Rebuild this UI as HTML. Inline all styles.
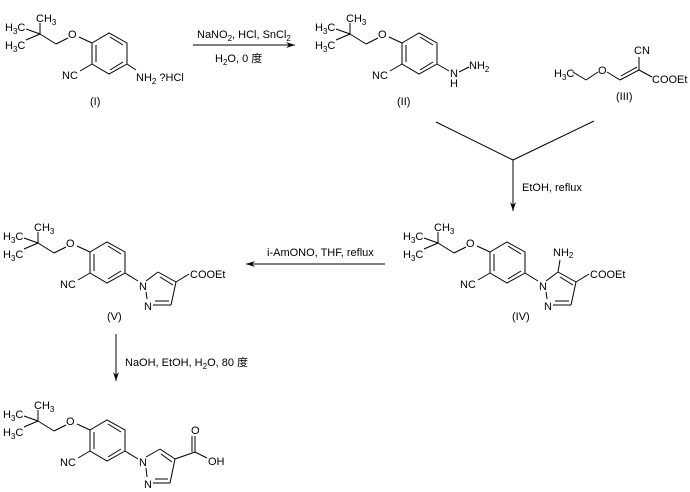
<!DOCTYPE html>
<html><head><meta charset="utf-8"><style>
html,body{margin:0;padding:0;background:#fff;}
svg{display:block;}
text{font-family:"Liberation Sans","Noto Sans CJK SC",sans-serif;font-size:11px;fill:#000;}
.s{font-size:8px;}
line,polyline{stroke:#000;stroke-width:1;fill:none;}
</style></head><body>
<svg width="690" height="492" viewBox="0 0 690 492" xmlns="http://www.w3.org/2000/svg">
<defs>
<marker id="ah" markerWidth="10" markerHeight="8" refX="9" refY="4" orient="auto" markerUnits="userSpaceOnUse">
<path d="M0,1 L9,4 L0,7 L3,4 Z" fill="#000"/></marker>
</defs>

<!-- Molecule I -->
<g transform="translate(92,43)">
<polyline points="0,0 17,-10 35,0 35,21 17,31 0,21 0,0"/>
<line x1="18" y1="-6" x2="31" y2="2"/><line x1="31" y1="19" x2="18" y2="27"/><line x1="4" y1="19" x2="4" y2="2"/>
<line x1="0" y1="0" x2="-13" y2="-6"/><text x="-24" y="-5">O</text>
<line x1="-24" y1="-5" x2="-36" y2="1"/><line x1="-36" y1="1" x2="-52" y2="-9"/>
<line x1="-52" y1="-9" x2="-52" y2="-20"/><line x1="-52" y1="-9" x2="-66" y2="-14"/><line x1="-52" y1="-9" x2="-66" y2="-3"/>
<text x="-56" y="-21">CH<tspan class="s" dy="3">3</tspan></text>
<text x="-87" y="-12">H<tspan class="s" dy="3">3</tspan><tspan dy="-3">C</tspan></text>
<text x="-87" y="6">H<tspan class="s" dy="3">3</tspan><tspan dy="-3">C</tspan></text>
<line x1="0" y1="21" x2="-12" y2="28"/><text x="-30" y="36">NC</text>
<line x1="35" y1="21" x2="44" y2="27"/><text x="44" y="38">NH<tspan class="s" dy="3">2</tspan><tspan dy="-3"> ?HCl</tspan></text>
<text x="-2" y="62">(I)</text>
</g>

<!-- Arrow 1 -->
<line x1="193" y1="45" x2="295" y2="45" marker-end="url(#ah)"/>
<text x="197" y="38">NaNO<tspan class="s" dy="3">2</tspan><tspan dy="-3">, HCl, SnCl</tspan><tspan class="s" dy="3">2</tspan></text>
<text x="215" y="62">H<tspan class="s" dy="3">2</tspan><tspan dy="-3">O, 0 度</tspan></text>

<!-- Molecule II -->
<g transform="translate(402,43)">
<polyline points="0,0 17,-10 35,0 35,21 17,31 0,21 0,0"/>
<line x1="18" y1="-6" x2="31" y2="2"/><line x1="31" y1="19" x2="18" y2="27"/><line x1="4" y1="19" x2="4" y2="2"/>
<line x1="0" y1="0" x2="-13" y2="-6"/><text x="-24" y="-5">O</text>
<line x1="-24" y1="-5" x2="-36" y2="1"/><line x1="-36" y1="1" x2="-52" y2="-9"/>
<line x1="-52" y1="-9" x2="-52" y2="-20"/><line x1="-52" y1="-9" x2="-66" y2="-14"/><line x1="-52" y1="-9" x2="-66" y2="-3"/>
<text x="-56" y="-21">CH<tspan class="s" dy="3">3</tspan></text>
<text x="-87" y="-12">H<tspan class="s" dy="3">3</tspan><tspan dy="-3">C</tspan></text>
<text x="-87" y="6">H<tspan class="s" dy="3">3</tspan><tspan dy="-3">C</tspan></text>
<line x1="0" y1="21" x2="-12" y2="28"/><text x="-30" y="36">NC</text>
<line x1="35" y1="21" x2="47" y2="28"/><text x="48" y="34">N</text><text x="48" y="44">H</text>
<line x1="57" y1="29" x2="67" y2="24"/><text x="67" y="26">NH<tspan class="s" dy="3">2</tspan></text>
<text x="-5" y="62">(II)</text>
</g>

<!-- Molecule III -->
<text x="554" y="77">H<tspan class="s" dy="3">3</tspan><tspan dy="-3">C</tspan></text>
<line x1="573" y1="72" x2="586" y2="80"/><line x1="586" y1="80" x2="598" y2="72"/>
<text x="598" y="74">O</text>
<line x1="607" y1="72" x2="620" y2="80"/><line x1="620" y1="80" x2="639" y2="70"/><line x1="621" y1="76" x2="637" y2="67"/>
<line x1="639" y1="70" x2="639" y2="57"/><text x="634" y="54">CN</text>
<line x1="639" y1="70" x2="652" y2="77"/><text x="652" y="83">COOEt</text>
<text x="616" y="100">(III)</text>

<!-- Converge arrow -->
<line x1="436" y1="122" x2="513" y2="160"/><line x1="594" y1="121" x2="513" y2="160"/>
<line x1="513" y1="160" x2="513" y2="211" marker-end="url(#ah)"/>
<text x="522" y="191">EtOH, reflux</text>

<!-- Molecule IV -->
<g transform="translate(490,252)">
<polyline points="0,0 17,-10 35,0 35,21 17,31 0,21 0,0"/>
<line x1="18" y1="-6" x2="31" y2="2"/><line x1="31" y1="19" x2="18" y2="27"/><line x1="4" y1="19" x2="4" y2="2"/>
<line x1="0" y1="0" x2="-13" y2="-6"/><text x="-24" y="-5">O</text>
<line x1="-24" y1="-5" x2="-36" y2="1"/><line x1="-36" y1="1" x2="-52" y2="-9"/>
<line x1="-52" y1="-9" x2="-52" y2="-20"/><line x1="-52" y1="-9" x2="-66" y2="-14"/><line x1="-52" y1="-9" x2="-66" y2="-3"/>
<text x="-56" y="-21">CH<tspan class="s" dy="3">3</tspan></text>
<text x="-87" y="-12">H<tspan class="s" dy="3">3</tspan><tspan dy="-3">C</tspan></text>
<text x="-87" y="6">H<tspan class="s" dy="3">3</tspan><tspan dy="-3">C</tspan></text>
<line x1="0" y1="21" x2="-12" y2="28"/><text x="-30" y="36">NC</text>
<line x1="35" y1="21" x2="48" y2="29"/><text x="49" y="38">N</text>
<line x1="56" y1="29" x2="68" y2="20"/><line x1="68" y1="20" x2="86" y2="30"/><line x1="70" y1="25" x2="83" y2="33"/>
<line x1="86" y1="30" x2="81" y2="53"/><line x1="81" y1="53" x2="63" y2="53"/><line x1="79" y1="49" x2="65" y2="49"/>
<text x="54" y="58">N</text><line x1="56" y1="40" x2="57" y2="47"/>
<line x1="68" y1="20" x2="70" y2="8"/><text x="63" y="4">NH<tspan class="s" dy="2">2</tspan></text>
<line x1="86" y1="30" x2="99" y2="22"/><text x="100" y="26">COOEt</text>
<text x="22" y="68">(IV)</text>
</g>

<!-- Arrow left -->
<line x1="385" y1="264" x2="246" y2="264" marker-end="url(#ah)"/>
<text x="267" y="256">i-AmONO, THF, reflux</text>

<!-- Molecule V -->
<g transform="translate(90,252)">
<polyline points="0,0 17,-10 35,0 35,21 17,31 0,21 0,0"/>
<line x1="18" y1="-6" x2="31" y2="2"/><line x1="31" y1="19" x2="18" y2="27"/><line x1="4" y1="19" x2="4" y2="2"/>
<line x1="0" y1="0" x2="-13" y2="-6"/><text x="-24" y="-5">O</text>
<line x1="-24" y1="-5" x2="-36" y2="1"/><line x1="-36" y1="1" x2="-52" y2="-9"/>
<line x1="-52" y1="-9" x2="-52" y2="-20"/><line x1="-52" y1="-9" x2="-66" y2="-14"/><line x1="-52" y1="-9" x2="-66" y2="-3"/>
<text x="-56" y="-21">CH<tspan class="s" dy="3">3</tspan></text>
<text x="-87" y="-12">H<tspan class="s" dy="3">3</tspan><tspan dy="-3">C</tspan></text>
<text x="-87" y="6">H<tspan class="s" dy="3">3</tspan><tspan dy="-3">C</tspan></text>
<line x1="0" y1="21" x2="-12" y2="28"/><text x="-30" y="36">NC</text>
<line x1="35" y1="21" x2="48" y2="29"/><text x="49" y="38">N</text>
<line x1="56" y1="29" x2="68" y2="20"/><line x1="68" y1="20" x2="86" y2="30"/><line x1="70" y1="25" x2="83" y2="33"/>
<line x1="86" y1="30" x2="81" y2="53"/><line x1="81" y1="53" x2="63" y2="53"/><line x1="79" y1="49" x2="65" y2="49"/>
<text x="54" y="58">N</text><line x1="56" y1="40" x2="57" y2="47"/>
<line x1="86" y1="30" x2="99" y2="22"/><text x="100" y="26">COOEt</text>
<text x="17" y="68">(V)</text>
</g>

<!-- Arrow down -->
<line x1="116" y1="334" x2="116" y2="381" marker-end="url(#ah)"/>
<text x="125" y="366">NaOH, EtOH, H<tspan class="s" dy="3">2</tspan><tspan dy="-3">O, 80 度</tspan></text>

<!-- Molecule VI -->
<g transform="translate(90,430)">
<polyline points="0,0 17,-10 35,0 35,21 17,31 0,21 0,0"/>
<line x1="18" y1="-6" x2="31" y2="2"/><line x1="31" y1="19" x2="18" y2="27"/><line x1="4" y1="19" x2="4" y2="2"/>
<line x1="0" y1="0" x2="-13" y2="-6"/><text x="-24" y="-5">O</text>
<line x1="-24" y1="-5" x2="-36" y2="1"/><line x1="-36" y1="1" x2="-52" y2="-9"/>
<line x1="-52" y1="-9" x2="-52" y2="-20"/><line x1="-52" y1="-9" x2="-66" y2="-14"/><line x1="-52" y1="-9" x2="-66" y2="-3"/>
<text x="-56" y="-21">CH<tspan class="s" dy="3">3</tspan></text>
<text x="-87" y="-12">H<tspan class="s" dy="3">3</tspan><tspan dy="-3">C</tspan></text>
<text x="-87" y="6">H<tspan class="s" dy="3">3</tspan><tspan dy="-3">C</tspan></text>
<line x1="0" y1="21" x2="-12" y2="28"/><text x="-30" y="36">NC</text>
<line x1="35" y1="21" x2="48" y2="29"/><text x="49" y="36">N</text>
<line x1="56" y1="27" x2="70" y2="19"/><line x1="70" y1="19" x2="85" y2="29"/><line x1="71" y1="24" x2="82" y2="32"/>
<line x1="85" y1="29" x2="80" y2="53"/><line x1="80" y1="53" x2="63" y2="53"/><line x1="78" y1="49" x2="65" y2="49"/>
<text x="54" y="58">N</text><line x1="56" y1="38" x2="57" y2="47"/>
<line x1="85" y1="29" x2="105" y2="22"/><line x1="105" y1="22" x2="105" y2="6"/><line x1="102" y1="22" x2="102" y2="6"/>
<text x="101" y="4">O</text>
<line x1="105" y1="22" x2="117" y2="28"/><text x="118" y="35">OH</text>
</g>
</svg>
</body></html>
